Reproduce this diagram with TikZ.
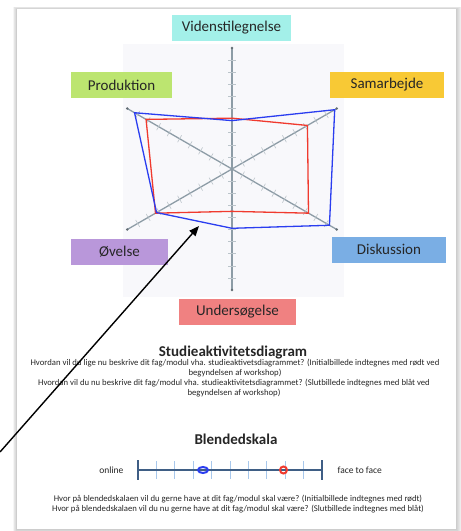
\documentclass[tikz,border=0pt]{standalone}
\usepackage{fontspec}
\setmainfont{Carlito}
\usepackage{xcolor}
\usepackage{tikz}
\usetikzlibrary{arrows.meta, positioning}

\definecolor{vidcol}{HTML}{A3F0E9}
\definecolor{prodcol}{HTML}{BCE570}
\definecolor{samcol}{HTML}{F8C935}
\definecolor{oevcol}{HTML}{B997DA}
\definecolor{diskcol}{HTML}{7AAEE4}
\definecolor{undcol}{HTML}{F08181}
\definecolor{axiscol}{HTML}{8D9CA6}
\definecolor{chartbg}{HTML}{F8F8FB}
\definecolor{initred}{HTML}{F03A2E}
\definecolor{slutblue}{HTML}{2A3DF0}
\definecolor{scaleline}{HTML}{3F5E85}
\definecolor{scaletick}{HTML}{A8C8EC}
\definecolor{txtcol}{HTML}{262626}

\begin{document}
\begin{tikzpicture}[
  x=1pt, y=-1pt,
  catbox/.style={rectangle, inner sep=0pt, minimum height=26pt, font=\fontsize{15}{17}\selectfont, text=txtcol},
  smalltext/.style={align=center, inner sep=0pt, font=\fontsize{8.7}{9.6}\selectfont, text=txtcol},
  heading/.style={inner sep=0pt, font=\fontsize{15}{18}\selectfont\bfseries, text=txtcol},
  scalelabel/.style={font=\fontsize{9.5}{11}\selectfont, text=txtcol}
]
\useasboundingbox (0,0) rectangle (461,531);
\foreach \s in {1,...,6}
  \fill[black, opacity=0.035] (17-0.7*\s,9-0.4*\s) rectangle (456+\s,529+\s);
\fill[white] (17,9) rectangle (456,529);
\fill[chartbg] (123,44) rectangle (344,297);

\begin{scope}[shift={(232,169)}, x=12.1pt, y=12.1pt]
  \foreach \a in {90,30,150} {
    \draw[axiscol, line width=1.3pt] (\a:10) -- (\a+180:10);
    \fill[axiscol!70!black] (\a:10) circle (0.12) (\a+180:10) circle (0.12);
    \begin{scope}[rotate=\a]
      \foreach \i in {1,...,9}
        \draw[axiscol!60, line width=0.6pt] (\i,-0.33) -- (\i,0.33) (-\i,-0.33) -- (-\i,0.33);
    \end{scope}
  }
  \draw[initred, line width=1.3pt] (90:4.2) -- (30:7.2) -- (-30:7.3) -- (-90:3.5) -- (-150:7.3) -- (150:8.2) -- cycle;
  \draw[slutblue, line width=1.3pt] (90:4.0) -- (30:9.8) -- (-30:9.3) -- (-90:4.9) -- (-150:7.2) -- (150:9.3) -- cycle;
\end{scope}

\node[catbox, fill=vidcol, minimum width=119pt] (viden) at (231.5,28) {Videnstilegnelse};
\node[catbox, fill=prodcol, minimum width=101pt] (prod) at (121.5,85) {Produktion};
\node[catbox, fill=samcol, minimum width=114pt] (samarb) at (387,85) {Samarbejde};
\node[catbox, fill=oevcol, minimum width=97pt] (oevelse) at (119.5,251.5) {Øvelse};
\node[catbox, fill=diskcol, minimum width=114pt] (diskus) at (389,249.5) {Diskussion};
\node[catbox, fill=undcol, minimum width=117pt] (unders) at (237.5,312) {Undersøgelse};

\node[heading] (studietitel) at (233,352) {Studieaktivitetsdiagram};
\node[smalltext] (spginit) at (235,368) {Hvordan vil du lige nu beskrive dit fag/modul vha. studieaktivetsdiagrammet? (Initialbillede indtegnes med rødt ved\\begyndelsen af workshop)};
\node[smalltext] (spgslut) at (234,388) {Hvordan vil du nu beskrive dit fag/modul vha. studieaktivitetsdiagrammet? (Slutbillede indtegnes med blåt ved\\begyndelsen af workshop)};

\node[heading] (blendtitel) at (236,439) {Blendedskala};
\coordinate (skalaV) at (138,470);
\coordinate (skalaH) at (322,470);
\foreach \i in {1,...,9}
  \draw[scaletick, line width=1pt] (138+\i*18.4,461) -- (138+\i*18.4,479);
\draw[scaleline, line width=1.4pt] (skalaV) -- (skalaH);
\draw[scaleline, line width=2.4pt] (138,460) -- (138,480) (322,460) -- (322,480);
\draw[slutblue, line width=2pt] (203,470) ellipse (5 and 3);
\draw[initred, line width=2pt] (283.5,470) ellipse (3.5 and 3.5);
\node[scalelabel, left=11pt of skalaV] (online) {online};
\node[scalelabel, right=12pt of skalaH] (ftf) {face to face};
\node[smalltext] (spgblend) at (238,504) {Hvor på blendedskalaen vil du gerne have at dit fag/modul skal være? (Initialbillede indtegnes med rødt)\\Hvor på blendedskalaen vil du nu gerne have at dit fag/modul skal være? (Slutbillede indtegnes med blåt)};

\coordinate (pilstart) at (0,452);
\coordinate (pilspids) at (199,226);
\draw[-{Triangle[length=10pt, width=8pt]}, line width=1.4pt] (pilstart) -- (pilspids);
\end{tikzpicture}
\end{document}
